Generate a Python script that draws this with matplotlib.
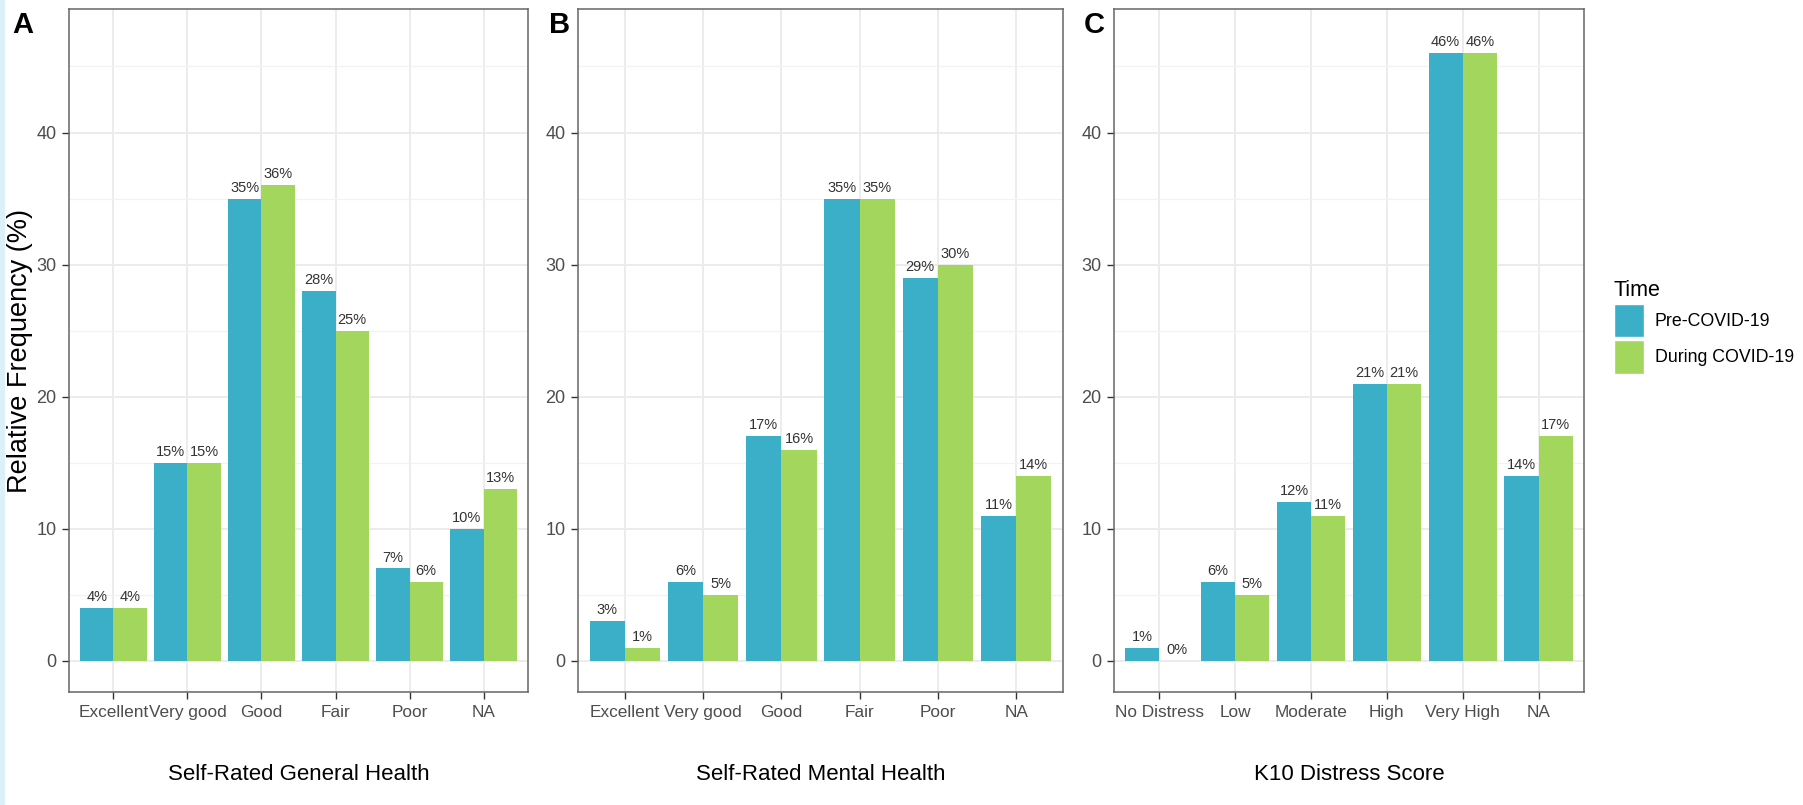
import matplotlib
matplotlib.use("Agg")
import matplotlib.pyplot as plt
import numpy as np
from matplotlib import font_manager
from matplotlib.patches import Patch, Rectangle

# data (relative frequency, %)
general_cats = ["Excellent", "Very good", "Good", "Fair", "Poor", "NA"]
general_pre = [4, 15, 35, 28, 7, 10]
general_during = [4, 15, 36, 25, 6, 13]

mental_cats = ["Excellent", "Very good", "Good", "Fair", "Poor", "NA"]
mental_pre = [3, 6, 17, 35, 29, 11]
mental_during = [1, 5, 16, 35, 30, 14]

k10_cats = ["No Distress", "Low", "Moderate", "High", "Very High", "NA"]
k10_pre = [1, 6, 12, 21, 46, 14]
k10_during = [0, 5, 11, 21, 46, 17]

series_names = ["Pre-COVID-19", "During COVID-19"]
blue = "#3bafc8"
green = "#a3d65c"

names = {f.name for f in font_manager.fontManager.ttflist}
regular = "Liberation Sans"
narrow = "Liberation Sans Narrow" if "Liberation Sans Narrow" in names else regular
nscale = 1.2 if narrow != regular else 1.0

W, H = 1803, 805
fig = plt.figure(figsize=(W / 100, H / 100), dpi=100)
fig.patches.append(Rectangle((0, 0), 4 / W, 1, transform=fig.transFigure,
                             color="#dcf0fa", zorder=0))

# tag, categories, pre, during, x title, left px, right px, tag x px, font, scale
panels = [
    ("A", general_cats, general_pre, general_during, "Self-Rated General Health", 69, 528, 12, regular, 1.0),
    ("B", mental_cats, mental_pre, mental_during, "Self-Rated Mental Health", 578, 1063, 549, regular, 1.0),
    ("C", k10_cats, k10_pre, k10_during, "K10 Distress Score", 1114, 1584, 1084, narrow, nscale),
]
top_px, bot_px = 9, 692

for tag, cats, pre, during, xtitle, x0, x1, tag_x, fam, sc in panels:
    ax = fig.add_axes([x0 / W, (H - bot_px) / H, (x1 - x0) / W, (bot_px - top_px) / H])
    x = np.arange(len(cats))
    bw = 0.45
    ax.bar(x - bw / 2, pre, bw, color=blue, zorder=3)
    ax.bar(x + bw / 2, during, bw, color=green, zorder=3)
    for xi, v in zip(x - bw / 2, pre):
        ax.text(xi, v + 0.3, f"{v}%", ha="center", va="bottom", fontsize=10.5 * sc,
                family=fam, color="#333333", zorder=4)
    for xi, v in zip(x + bw / 2, during):
        ax.text(xi, v + 0.3, f"{v}%", ha="center", va="bottom", fontsize=10.5 * sc,
                family=fam, color="#333333", zorder=4)

    ax.set_xlim(-0.6, len(cats) - 0.4)
    ax.set_ylim(-2.35, 49.35)
    ax.set_xticks(x)
    ax.set_xticklabels(cats, family=fam, fontsize=12.4 * sc, color="#4d4d4d")
    ax.set_yticks([0, 10, 20, 30, 40])
    ax.set_yticks([5, 15, 25, 35, 45], minor=True)
    for lab in ax.get_yticklabels():
        lab.set_family(fam)
        lab.set_fontsize(13 * sc)
        lab.set_color("#4d4d4d")
    ax.tick_params(axis="both", which="major", length=5, width=1, color="#333333", pad=4)
    ax.tick_params(axis="y", which="minor", length=0)
    ax.grid(True, which="major", color="#ebebeb", lw=1.3, zorder=0)
    ax.grid(True, which="minor", axis="y", color="#f2f2f2", lw=0.9, zorder=0)
    ax.set_axisbelow(True)
    for s in ax.spines.values():
        s.set_color("#666666")
        s.set_linewidth(1.1)

    ax.set_xlabel(xtitle, family=fam, fontsize=16 if sc == 1.0 else 16.8)
    ax.xaxis.set_label_coords(0.5, -0.106)
    if tag == "A":
        ax.set_ylabel("Relative Frequency (%)", family=regular, fontsize=19.5)
        ax.yaxis.set_label_coords(-0.078, 0.5)

    fig.text(tag_x / W, 1 - 11 / H, tag, fontsize=21, fontweight="bold",
             family=regular, ha="left", va="top")

handles = [Patch(facecolor=blue, edgecolor="white", lw=1),
           Patch(facecolor=green, edgecolor="white", lw=1)]
leg_fs = 12.8 * nscale
leg = fig.legend(handles, series_names, title="Time", loc="upper left",
                 bbox_to_anchor=(1614 / W, 1 - 280 / H), frameon=False,
                 prop={"family": narrow, "size": leg_fs},
                 title_fontproperties={"family": narrow, "size": 15.5 * nscale},
                 handlelength=30 / (leg_fs * 100 / 72), handleheight=45 / (leg_fs * 100 / 72),
                 handletextpad=0.6, labelspacing=0.15, borderpad=0, borderaxespad=0,
                 alignment="left")

fig.savefig("out.png", dpi=100)
